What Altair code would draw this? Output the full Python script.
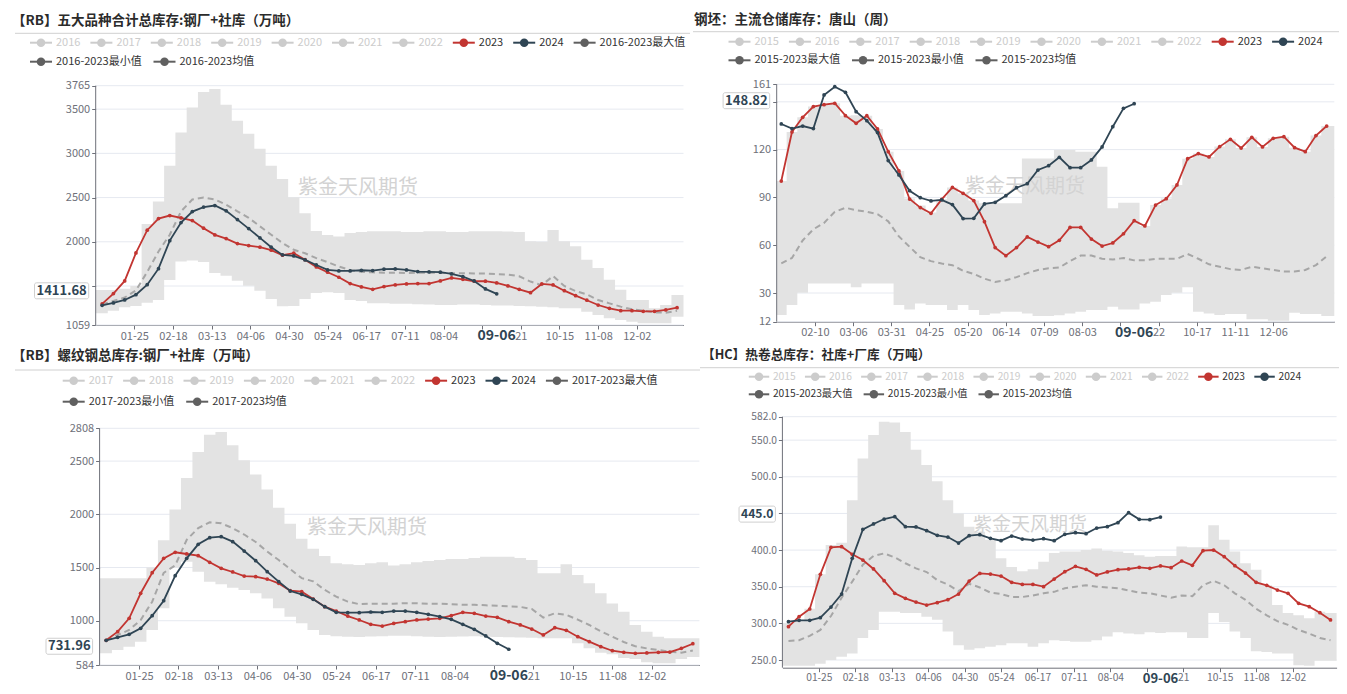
import json
import altair as alt
import pandas as pd

FONT = "Noto Sans CJK SC"
W, H, M = 1331, 678, 8

C_RED = "#c23531"
C_DARK = "#2f4554"
C_AVG = "#a6a6a6"
C_BAND = "#e3e3e3"
C_GRID = "#e6e9f0"
C_AXIS = "#6e7079"
C_INACT = "#cccccc"
C_TEXT = "#333333"
C_STAT = "#606060"
C_WM = "#d3d3d3"
C_TITLE = "#2b2b2b"

TICKS_A = ["01-25", "02-18", "03-13", "04-06", "04-30", "05-24", "06-17",
           "07-11", "08-04", "08-28", "09-21", "10-15", "11-08", "12-02"]
TICKS_B = ["02-10", "03-06", "03-31", "04-25", "05-20", "06-14", "07-09",
           "08-03", "08-28", "09-22", "10-17", "11-11", "12-06"]

# ---------------- panel 1: RB five varieties total inventory ----------------
p1_red = [1297, 1414, 1557, 1874, 2131, 2263, 2297, 2270, 2240, 2154, 2078, 2036, 1980, 1957,
          1939, 1905, 1848, 1871, 1798, 1716, 1656, 1599, 1527, 1489, 1463, 1493, 1512, 1523,
          1527, 1527, 1557, 1591, 1576, 1554, 1554, 1535, 1501, 1463, 1425, 1523, 1512, 1447,
          1391, 1339, 1285, 1248, 1221, 1221, 1214, 1214, 1229, 1255]
p1_dark = [1282, 1308, 1342, 1402, 1515, 1696, 2013, 2217, 2342, 2392, 2410, 2350, 2251, 2149,
           2044, 1939, 1852, 1840, 1795, 1738, 1682, 1670, 1670, 1678, 1674, 1690, 1693, 1682,
           1663, 1659, 1656, 1636, 1606, 1557, 1467, 1411.68]
p1_max = [1455, 1455, 1470, 1500, 2202, 2455, 2859, 3237, 3519, 3693, 3727, 3550, 3369, 3221,
          3052, 2859, 2709, 2505, 2323, 2123, 2078, 2059, 2098, 2110, 2120, 2120, 2120, 2110,
          2110, 2120, 2120, 2110, 2110, 2120, 2120, 2120, 2115, 2110, 2005, 2000, 2132, 2005,
          1949, 1798, 1704, 1572, 1459, 1342, 1342, 1248, 1285, 1398]
p1_min = [1191, 1221, 1259, 1274, 1311, 1342, 1569, 1776, 1787, 1770, 1646, 1616, 1560, 1503,
          1446, 1352, 1270, 1275, 1352, 1420, 1430, 1420, 1342, 1330, 1304, 1304, 1300, 1300,
          1295, 1290, 1285, 1285, 1290, 1290, 1285, 1280, 1280, 1275, 1270, 1265, 1260, 1248,
          1248, 1210, 1172, 1134, 1115, 1097, 1078, 1078, 1078, 1153]
p1_avg = [1290, 1330, 1370, 1450, 1660, 1890, 2080, 2345, 2478, 2500, 2478, 2420, 2345, 2270,
          2175, 2080, 1986, 1910, 1870, 1815, 1770, 1720, 1680, 1660, 1655, 1650, 1650, 1648,
          1650, 1650, 1648, 1645, 1645, 1642, 1640, 1635, 1630, 1610, 1550, 1510, 1612, 1500,
          1443, 1405, 1342, 1304, 1267, 1236, 1221, 1202, 1198, 1221]
p1_yticks = [1059, 1500, 2000, 2500, 3000, 3500, 3765]

# ---------------- panel 2: billet warehouse inventory, Tangshan ----------------
p2_red = [100.3, 131.1, 140.3, 147, 148.2, 149.1, 141.3, 136.5, 141.3, 133, 118.7, 106.6, 89,
          83.6, 80, 88.8, 96.3, 92.6, 88, 74.8, 58.5, 53.4, 58.5, 65.2, 62, 59.1, 63.1, 71.2,
          71.2, 63.9, 59.5, 61.4, 67.2, 75.4, 72.1, 85.2, 89.2, 97.8, 114.3, 117.5, 115.4,
          121.9, 126.5, 121, 127.7, 121.7, 127.1, 128.1, 121.2, 118.7, 128.8, 134.8]
p2_dark = [136.1, 133.2, 134.8, 133.2, 154.3, 159.5, 156, 143.8, 138.2, 130.7, 113.1, 104.1,
           94.2, 89.8, 87.8, 88.4, 85.5, 76.7, 76.9, 85.9, 86.9, 91.1, 96.1, 98.6, 107.2,
           109.9, 115.2, 108.7, 108.7, 113.5, 121.7, 134.4, 145.9, 148.82]
p2_max = [100.3, 131.1, 140.3, 147, 148.2, 149.1, 141.3, 141.5, 141.3, 133, 118.7, 106.6, 89.4,
          85, 80.5, 88.8, 96.3, 92.6, 88, 86.3, 86.3, 86.3, 86.3, 114.5, 114.5, 114.5, 119.8,
          119.8, 118.7, 118.7, 109.3, 83.2, 86.7, 86.7, 72.1, 85.2, 89.4, 97.8, 114.3, 117.5,
          115.4, 121.9, 126.5, 121, 127.7, 121.7, 127.1, 128.1, 121.2, 118.7, 128.8, 134.8]
p2_min = [16.2, 22.5, 30.2, 36, 36, 36, 36, 33.6, 36, 36, 36, 22.5, 19.7, 23.5, 22.5, 22.5,
          19.3, 22.5, 19.3, 16.2, 17.2, 18.3, 18.3, 17.2, 15.6, 15.6, 16, 17.2, 18.3, 19.3,
          19.3, 21.4, 19.7, 19.7, 23.5, 24.6, 28.7, 30.2, 33.6, 18.3, 17.2, 16.2, 16.8, 16.8,
          13.5, 13.5, 12.6, 12.6, 17.6, 16.8, 16.8, 15.6]
p2_avg = [48.6, 52, 63, 70, 74, 81, 83.5, 82, 81, 79.5, 75, 65.5, 59, 52.5, 50, 48.5, 47.5, 44,
          42, 39, 37, 38, 40, 42.5, 44.5, 45.5, 46, 50, 53.5, 53.5, 51.5, 51, 52, 50.5, 50.5,
          51.5, 51.5, 51.5, 54.5, 51.5, 48, 46.5, 45, 44.5, 46.5, 45.5, 44.5, 43.5, 43.5, 44.5,
          47.5, 53]
p2_yticks = [12, 30, 60, 90, 120, 150, 161]

# ---------------- panel 3: rebar total inventory ----------------
p3_red = [816, 897, 1023, 1258, 1451, 1586, 1643, 1627, 1611, 1549, 1492, 1458, 1420, 1414,
          1392, 1351, 1282, 1273, 1204, 1132, 1091, 1044, 1007, 966, 950, 975, 991, 1007, 1016,
          1023, 1047, 1079, 1070, 1044, 1032, 991, 960, 922, 866, 935, 910, 850, 803, 756, 718,
          703, 694, 697, 703, 706, 741, 784]
p3_dark = [816, 844, 872, 929, 1047, 1188, 1423, 1586, 1718, 1780, 1790, 1743, 1655, 1564, 1461,
           1367, 1279, 1248, 1201, 1132, 1079, 1076, 1076, 1082, 1079, 1091, 1091, 1079, 1060,
           1038, 1013, 966, 919, 857, 788, 731.96]
p3_max = [1398, 1398, 1398, 1398, 1500, 1756, 2044, 2341, 2585, 2748, 2773, 2648, 2507, 2375,
          2234, 2062, 1912, 1771, 1677, 1608, 1540, 1530, 1524, 1540, 1550, 1520, 1530, 1550,
          1560, 1570, 1580, 1580, 1590, 1600, 1601, 1600, 1590, 1570, 1445, 1445, 1530, 1430,
          1351, 1257, 1163, 1085, 960, 897, 850, 835, 835, 835]
p3_min = [694, 725, 756, 803, 913, 1117, 1500, 1555, 1461, 1367, 1342, 1311, 1289, 1257, 1210,
          1117, 1038, 976, 913, 866, 855, 850, 848, 852, 855, 860, 858, 855, 850, 848, 850, 852,
          855, 850, 848, 845, 842, 840, 835, 835, 835, 788, 741, 700, 685, 650, 640, 610, 600,
          600, 640, 660]
p3_avg = [816, 866, 913, 1007, 1179, 1450, 1520, 1760, 1870, 1925, 1915, 1870, 1810, 1740, 1650,
          1570, 1485, 1400, 1370, 1290, 1226, 1180, 1155, 1160, 1160, 1160, 1165, 1165, 1160,
          1160, 1155, 1150, 1150, 1145, 1140, 1135, 1130, 1110, 1030, 1070, 1055, 1010, 960, 900,
          850, 800, 760, 740, 725, 710, 700, 720]
p3_yticks = [584, 1000, 1500, 2000, 2500, 2808]

# ---------------- panel 4: hot coil total inventory ----------------
p4_red = [295.5, 309.1, 319.6, 366.9, 403.7, 404.6, 394.2, 386.4, 374.2, 358.2, 341, 334.1,
          329.1, 325, 328.2, 332.3, 340, 357.8, 368.2, 367.3, 364.6, 356, 353.2, 353.2, 350.1,
          360.5, 370.5, 377.8, 373.7, 366, 370.1, 373.2, 374.2, 376.4, 375.1, 378.3, 376, 385.1,
          379.2, 399.2, 400.1, 391, 378.7, 368.7, 356, 351.9, 345.5, 341, 327.3, 322.8, 314.6,
          304.6]
p4_dark = [302.3, 304.1, 304.1, 307.8, 322.3, 340, 388.7, 428.3, 435.6, 442.4, 445.6, 431.9,
           431.5, 426.5, 420.1, 417.8, 409.6, 419.6, 421, 416, 412.8, 419.2, 415.1, 413.7, 415.5,
           412.8, 421.5, 423.7, 422.4, 430.1, 431.9, 437.4, 451, 441.9, 441.5, 445.0]
p4_max = [300, 303, 320, 367, 407, 410, 468, 525, 557, 575, 574, 561, 537, 516, 494, 468, 450,
          432, 425, 414, 389, 377, 371, 374, 384, 396, 398, 398, 400, 402, 399, 398, 396, 393,
          391, 392, 392, 405, 404, 404, 434, 414, 398, 382, 373, 352, 325, 314, 311, 307, 316,
          314]
p4_min = [242, 242, 242, 245, 250, 254.5, 259, 280, 291, 316, 316, 314, 314, 309, 305, 289, 270,
          264, 266, 268, 270, 273, 273, 268, 273, 277, 276, 275, 275, 277, 282, 288, 286, 285,
          288, 287, 288, 288, 280, 280, 314, 302, 289, 280, 262, 261, 259, 259, 243, 242, 249,
          249]
p4_avg = [276, 277, 283, 291, 310, 335, 357, 380, 392, 395.5, 390, 382, 375, 370, 359, 353, 344,
          354, 349, 342, 340, 336, 336, 338, 341, 343, 348, 350, 352, 350, 349, 348, 345, 342,
          341, 338, 335, 338, 337, 352, 358, 352, 341, 332, 320, 311, 303, 298, 291, 286, 280,
          277]
p4_yticks = [250, 300, 350, 400, 450, 500, 550, 582]

PANELS = [
    dict(title="【RB】五大品种合计总库存:钢厂+社库（万吨）", tpos=(12, 20.7), tfs=13.5, sep=(15, 690, 33.3),
         leg_x0=41, leg_y=(42.7, 61.7), s=1.0, years=list(range(2016, 2023)), stat="2016-2023", k1=1,
         red=p1_red, dark=p1_dark, hi=p1_max, lo=p1_min, avg=p1_avg,
         start="2024-01-05", domain=("2024-01-01", "2024-12-31"), ticks=TICKS_A,
         xr=(95.7, 683.5), yr=(325, 85.7), ydom=(1059, 3765), yticks=p1_yticks, yfmt="d",
         bfmt="{:.2f}", wm=(358, 188, 20)),
    dict(title="钢坯：主流仓储库存：唐山（周）", tpos=(694, 20), tfs=13.5, sep=(693, 1347, 31.7),
         leg_x0=739.5, leg_y=(41.7, 60.3), s=1.0, years=list(range(2015, 2023)), stat="2015-2023", k1=0,
         red=p2_red, dark=p2_dark, hi=p2_max, lo=p2_min, avg=p2_avg,
         start="2024-01-19", domain=("2024-01-16", "2025-01-15"), ticks=TICKS_B,
         xr=(776.7, 1334.3), yr=(321.7, 84.3), ydom=(12, 161), yticks=p2_yticks, yfmt="d",
         bfmt="{:.2f}", wm=(1025, 187, 20)),
    dict(title="【RB】螺纹钢总库存:钢厂+社库（万吨）", tpos=(12, 355.7), tfs=13.5, sep=(15, 700, 370),
         leg_x0=73.7, leg_y=(380.7, 401.7), s=1.0, years=list(range(2017, 2023)), stat="2017-2023", k1=1,
         red=p3_red, dark=p3_dark, hi=p3_max, lo=p3_min, avg=p3_avg,
         start="2024-01-05", domain=("2024-01-01", "2024-12-31"), ticks=TICKS_A,
         xr=(99.6, 699.4), yr=(665, 428.3), ydom=(584, 2808), yticks=p3_yticks, yfmt="d",
         bfmt="{:.2f}", wm=(367, 528, 20)),
    dict(title="【HC】热卷总库存：社库+厂库（万吨）", tpos=(702, 355), tfs=12.7, sep=(700, 1347, 367.7),
         leg_x0=759, leg_y=(376.7, 394.3), s=0.93, years=list(range(2015, 2023)), stat="2015-2023", k1=0,
         red=p4_red, dark=p4_dark, hi=p4_max, lo=p4_min, avg=p4_avg,
         start="2024-01-05", domain=("2024-01-01", "2024-12-31"), ticks=TICKS_A,
         xr=(782.4, 1336.6), yr=(667.7, 416.7), ydom=(239.5, 582), yticks=p4_yticks, yfmt=".1f",
         bfmt="{:.1f}", wm=(1030, 525, 19)),
]


def dt(ts):
    return alt.DateTime(year=ts.year, month=ts.month, date=ts.day, utc=True)


def build_panel(p):
    s = p["s"]
    start = pd.Timestamp(p["start"])
    n = len(p["red"])
    dates = [start + pd.Timedelta(days=7 * i) for i in range(n)]
    ds = [d.strftime("%Y-%m-%d") for d in dates]
    d0, d1 = pd.Timestamp(p["domain"][0]), pd.Timestamp(p["domain"][1])
    xl, xrt = p["xr"][0] - M, p["xr"][1] - M
    yb, yt = p["yr"][0] - M, p["yr"][1] - M
    xs = alt.Scale(type="utc", domain=[dt(d0), dt(d1)], range=[xl, xrt], nice=False)
    ys = alt.Scale(domain=list(p["ydom"]), range=[yb, yt], nice=False, zero=False)
    tick_ts = [pd.Timestamp("2024-" + t) for t in p["ticks"]]
    nd = len(p["dark"])
    last = dates[nd - 1]
    # tick labels hidden or partly hidden behind the date label of the latest reading
    hidden = [t for t, ts in zip(p["ticks"], tick_ts) if 0 < (last - ts).days < 12]
    partial = [t for t, ts in zip(p["ticks"], tick_ts) if 0 < (ts - last).days < 20]
    lexpr = "datum.label"
    if partial:
        lexpr = "indexof(%s, datum.label) >= 0 ? substring(datum.label, 3) : %s" % (json.dumps(partial), lexpr)
    if hidden:
        lexpr = "indexof(%s, datum.label) >= 0 ? '' : %s" % (json.dumps(hidden), lexpr)
    # y tick labels that sit under the value box of the latest reading
    lastv = p["dark"][-1]
    lo_d, hi_d = p["ydom"]

    def ypix(v):
        return yb + (v - lo_d) / (hi_d - lo_d) * (yt - yb)

    vpx = ypix(lastv)
    yhidden = [t for t in p["yticks"] if vpx - 17 <= ypix(t) <= vpx + 9]
    yexpr = "datum.label"
    if yhidden:
        yexpr = "indexof(%s, datum.value) >= 0 ? '' : datum.label" % json.dumps(yhidden)
    xaxis = alt.Axis(orient="bottom", offset=yb - H, values=[dt(t) for t in tick_ts], format="%m-%d",
                     labelExpr=lexpr, grid=False, title=None, domainColor=C_AXIS, tickColor=C_AXIS,
                     tickSize=4, labelColor=C_AXIS, labelFont=FONT, labelFontSize=11 * s,
                     labelPadding=1, labelFlush=False, labelOverlap=False)
    yaxis = alt.Axis(orient="left", offset=-xl, values=p["yticks"], format=p["yfmt"], grid=False,
                     title=None, domain=False, tickColor=C_AXIS, tickSize=4, labelColor=C_AXIS,
                     labelFont=FONT, labelFontSize=11 * s, labelPadding=2, labelOverlap=False,
                     labelExpr=yexpr)
    X = alt.X("date:T", scale=xs, axis=xaxis)

    def Y(f):
        return alt.Y(f + ":Q", scale=ys, axis=yaxis)

    grid = alt.Chart(pd.DataFrame({"v": p["yticks"]})).mark_rule(color=C_GRID, strokeWidth=1).encode(
        y=Y("v"), x=alt.value(xl), x2=alt.value(xrt))
    bdf = pd.DataFrame({"date": [d0.strftime("%Y-%m-%d")] + ds + [d1.strftime("%Y-%m-%d")],
                        "lo": [p["lo"][0]] + p["lo"] + [p["lo"][-1]],
                        "hi": [p["hi"][0]] + p["hi"] + [p["hi"][-1]]})
    band = alt.Chart(bdf).mark_area(interpolate="step", color=C_BAND, opacity=1).encode(
        x=X, y=Y("lo"), y2=alt.Y2("hi:Q"))
    wx, wy, wfs = p["wm"]
    wm = alt.Chart(pd.DataFrame({"t": ["紫金天风期货"]})).mark_text(
        font=FONT, fontSize=wfs, color=C_WM, align="center", baseline="middle").encode(
        x=alt.value(wx - M), y=alt.value(wy - M), text="t:N")
    adf = pd.DataFrame({"date": ds, "v": p["avg"]})
    avg = alt.Chart(adf).mark_line(strokeDash=[6, 4], color=C_AVG,
                                   strokeWidth=2).encode(x=X, y=Y("v"))
    rdf = pd.DataFrame({"date": ds, "v": p["red"]})
    kdf = pd.DataFrame({"date": ds[:nd], "v": p["dark"]})
    red_l = alt.Chart(rdf).mark_line(color=C_RED, strokeWidth=1.8).encode(x=X, y=Y("v"))
    red_p = alt.Chart(rdf).mark_point(filled=True, size=14, color=C_RED, opacity=1).encode(x=X, y=Y("v"))
    dk_l = alt.Chart(kdf).mark_line(color=C_DARK, strokeWidth=1.8).encode(x=X, y=Y("v"))
    dk_p = alt.Chart(kdf).mark_point(filled=True, size=14, color=C_DARK, opacity=1).encode(x=X, y=Y("v"))
    axl = alt.Chart(pd.DataFrame({"a": [0]})).mark_rule(color=C_AXIS, strokeWidth=1).encode(
        x=alt.value(xl), y=alt.value(yt), y2=alt.value(yb))
    pdf = pd.DataFrame({"date": [ds[nd - 1]], "lab": [last.strftime("%m-%d")]})
    ptxt = alt.Chart(pdf).mark_text(font=FONT, fontSize=14 * s, fontWeight="bold", color=C_DARK,
                                    align="center", baseline="middle").encode(
        x=X, y=alt.value(yb + 11), text="lab:N")
    lab = p["bfmt"].format(lastv)
    bw = 7.6 * len(lab) * s + 1
    vdf = pd.DataFrame({"v": [lastv], "lab": [lab]})
    brect = alt.Chart(vdf).mark_rect(fill="white", stroke="#cfcfcf", strokeWidth=1, cornerRadius=2,
                                     yOffset=-11, y2Offset=5).encode(
        x=alt.value(xl - 7 - bw), x2=alt.value(xl - 7), y=Y("v"), y2=alt.Y2("v:Q"))
    btxt = alt.Chart(vdf).mark_text(font=FONT, fontSize=13 * s, fontWeight="bold", color=C_DARK,
                                    align="center", baseline="middle", dy=-3).encode(
        x=alt.value(xl - 7 - bw / 2), y=Y("v"), text="lab:N")
    return alt.layer(grid, band, wm, avg, red_l, red_p, dk_l, dk_p, axl, ptxt, brect, btxt)


def tw(txt):
    w = 0.0
    for ch in txt:
        if ch.isdigit():
            w += 6.1
        elif ch == "-":
            w += 3.6
        elif ord(ch) > 0x2E80:
            w += 11.7
        else:
            w += 6.0
    return w


leg_recs, title_recs, sep_recs = [], [], []
for p in PANELS:
    s = p["s"]
    stats = [p["stat"] + "最大值", p["stat"] + "最小值", p["stat"] + "均值"]
    row1 = [(str(y), C_INACT, C_INACT) for y in p["years"]]
    row1 += [("2023", C_RED, C_TEXT), ("2024", C_DARK, C_TEXT)]
    row1 += [(t, C_STAT, C_TEXT) for t in stats[:p["k1"]]]
    row2 = [(t, C_STAT, C_TEXT) for t in stats[p["k1"]:]]
    for row, yy in zip((row1, row2), p["leg_y"]):
        x = p["leg_x0"]
        for lab, sc, tc in row:
            leg_recs.append(dict(cx=x - M, cy=yy - M, lx0=x - 11 * s - M, lx1=x + 11 * s - M,
                                 tx=x + 15 * s - M, label=lab, sc=sc, tc=tc, fs=11 * s))
            x += (36 + tw(lab)) * s
    title_recs.append(dict(tx=p["tpos"][0] - M, ty=p["tpos"][1] - M, t=p["title"], fs=p["tfs"]))
    sep_recs.append(dict(x0=p["sep"][0] - M, x1=p["sep"][1] - M, y=p["sep"][2] - M))

leg_df = pd.DataFrame(leg_recs)
PX = lambda f: alt.X(f, scale=None, axis=None)
PY = lambda f: alt.Y(f, scale=None, axis=None)

leg_line = alt.Chart(leg_df).mark_rule(strokeWidth=2).encode(
    x=PX("lx0:Q"), x2="lx1:Q", y=PY("cy:Q"), color=alt.Color("sc:N", scale=None))
leg_dot = alt.Chart(leg_df).mark_point(filled=True, size=72, opacity=1).encode(
    x=PX("cx:Q"), y=PY("cy:Q"), color=alt.Color("sc:N", scale=None))
leg_txt = alt.Chart(leg_df).mark_text(align="left", baseline="middle", font=FONT).encode(
    x=PX("tx:Q"), y=PY("cy:Q"), text="label:N", color=alt.Color("tc:N", scale=None),
    size=alt.Size("fs:Q", scale=None))
titles = alt.Chart(pd.DataFrame(title_recs)).mark_text(
    align="left", baseline="middle", font=FONT, fontWeight="bold", color=C_TITLE).encode(
    x=PX("tx:Q"), y=PY("ty:Q"), text="t:N", size=alt.Size("fs:Q", scale=None))
seps = alt.Chart(pd.DataFrame(sep_recs)).mark_rule(color="#d0d0d0", strokeWidth=1).encode(
    x=PX("x0:Q"), x2="x1:Q", y=PY("y:Q"))

chart = alt.layer(*[build_panel(p) for p in PANELS], seps, titles, leg_line, leg_dot, leg_txt).resolve_scale(
    x="independent", y="independent", color="independent", size="independent"
).resolve_axis(x="independent", y="independent").properties(
    width=W, height=H, autosize=alt.AutoSizeParams(type="none"), padding=0, background="white"
).configure_view(stroke=None)

chart.save("out.html", embed_options={"renderer": "svg", "actions": False})
